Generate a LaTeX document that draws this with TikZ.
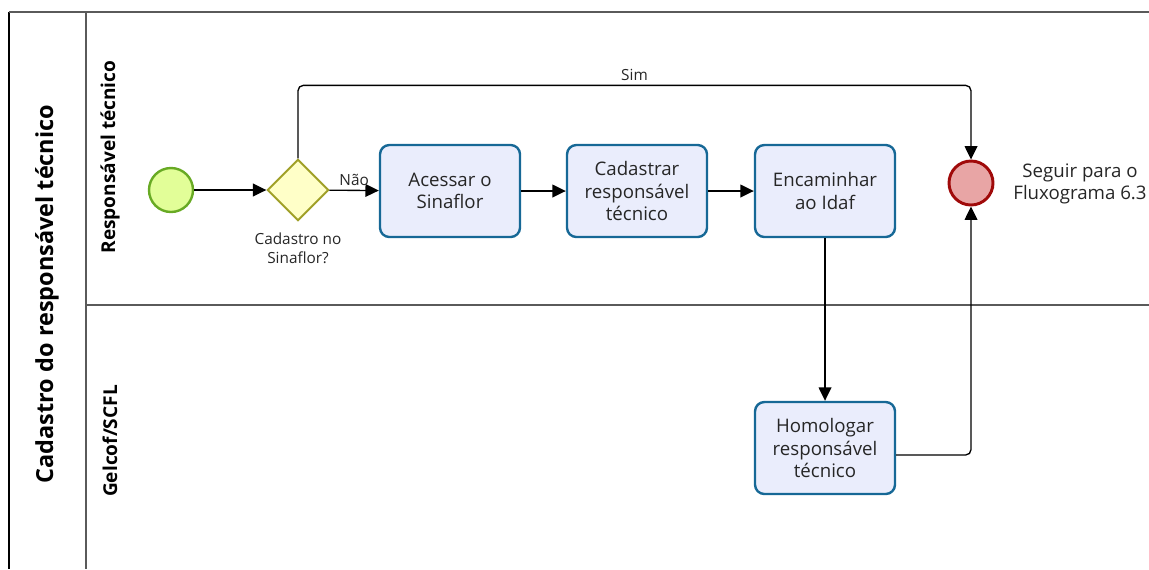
\documentclass[tikz,border=0pt]{standalone}
\usepackage{fontspec}
\setmainfont{Open Sans}
\usetikzlibrary{shapes.geometric,arrows.meta}
\definecolor{taskfill}{RGB}{234,237,252}
\definecolor{taskdraw}{RGB}{22,104,150}
\definecolor{startfill}{RGB}{226,254,152}
\definecolor{startdraw}{RGB}{104,170,36}
\definecolor{gatefill}{RGB}{255,255,200}
\definecolor{gatedraw}{RGB}{160,160,40}
\definecolor{endfill}{RGB}{232,165,165}
\definecolor{enddraw}{RGB}{160,10,10}
\definecolor{laneline}{RGB}{90,90,90}
\tikzset{
  task/.style={
    draw=taskdraw,fill=taskfill,line width=1.8pt,rounded corners=7pt,
    minimum width=105pt,minimum height=69pt,align=center,
    font=\fontsize{14}{17}\selectfont,text=black!85
  },
  startev/.style={circle,draw=startdraw,fill=startfill,line width=1.8pt,minimum size=33pt,inner sep=0pt},
  endev/.style={circle,draw=enddraw,fill=endfill,line width=2.2pt,minimum size=33pt,inner sep=0pt},
  gate/.style={diamond,draw=gatedraw,fill=gatefill,line width=1.5pt,minimum size=46pt,inner sep=0pt},
  flow/.style={-{Triangle[length=10pt,width=9.5pt]},line width=1pt,rounded corners=4pt},
  lanetitle/.style={rotate=90,font=\bfseries\fontsize{14.3}{17}\selectfont},
  smalllbl/.style={font=\fontsize{11.5}{14}\selectfont,text=black!85,align=center}
}

\begin{document}
\begin{tikzpicture}[x=0.75pt,y=-0.75pt]
\useasboundingbox (0,0) rectangle (1149,569);
% pool and lanes
\draw[line width=1.2pt] (9,12) -- (9,569);
\draw[laneline,line width=0.9pt] (9,12) -- (1149,12) (86,12) -- (86,569) (86,305) -- (1149,305);
\node[rotate=90,font=\bfseries\fontsize{17.6}{20}\selectfont] (pooltitle) at (47,294) {Cadastro do responsável técnico};
\node[lanetitle] (lanert) at (110,157) {Responsável técnico};
\node[lanetitle] (lanegel) at (110,441) {Gelcof/SCFL};

\node[startev] (start) at (171,190) {};
\node[gate] (gw) at (298,190) {};
\node[smalllbl] (gwlbl) at (298,248) {Cadastro no\\Sinaflor?};
\node[task] (acessar) at (450,191) {Acessar o\\Sinaflor};
\node[task] (cadastrar) at (637,191) {Cadastrar\\responsável\\técnico};
\node[task] (encaminhar) at (825,191) {Encaminhar\\ao Idaf};
\node[task] (homologar) at (825,448) {Homologar\\responsável\\técnico};
\node[endev] (fim) at (971,183) {};
\node[font=\fontsize{14}{17}\selectfont,align=center,text=black!85] (seguir) at (1080,184) {Seguir para o\\Fluxograma 6.3};

\draw[flow] (start) -- (gw);
\draw[flow] (gw) -- node[smalllbl,above]{Não} (acessar);
\draw[flow] (acessar) -- (cadastrar);
\draw[flow] (cadastrar) -- (encaminhar);
\draw[flow] (gw.north) -- ++(0,-73) -| node[smalllbl,pos=0.25,above]{Sim} (fim.north);
\draw[flow] (encaminhar) -- (homologar);
\draw[flow] ([shift={(0,7)}]homologar.east) -| (fim.south);
\end{tikzpicture}
\end{document}
